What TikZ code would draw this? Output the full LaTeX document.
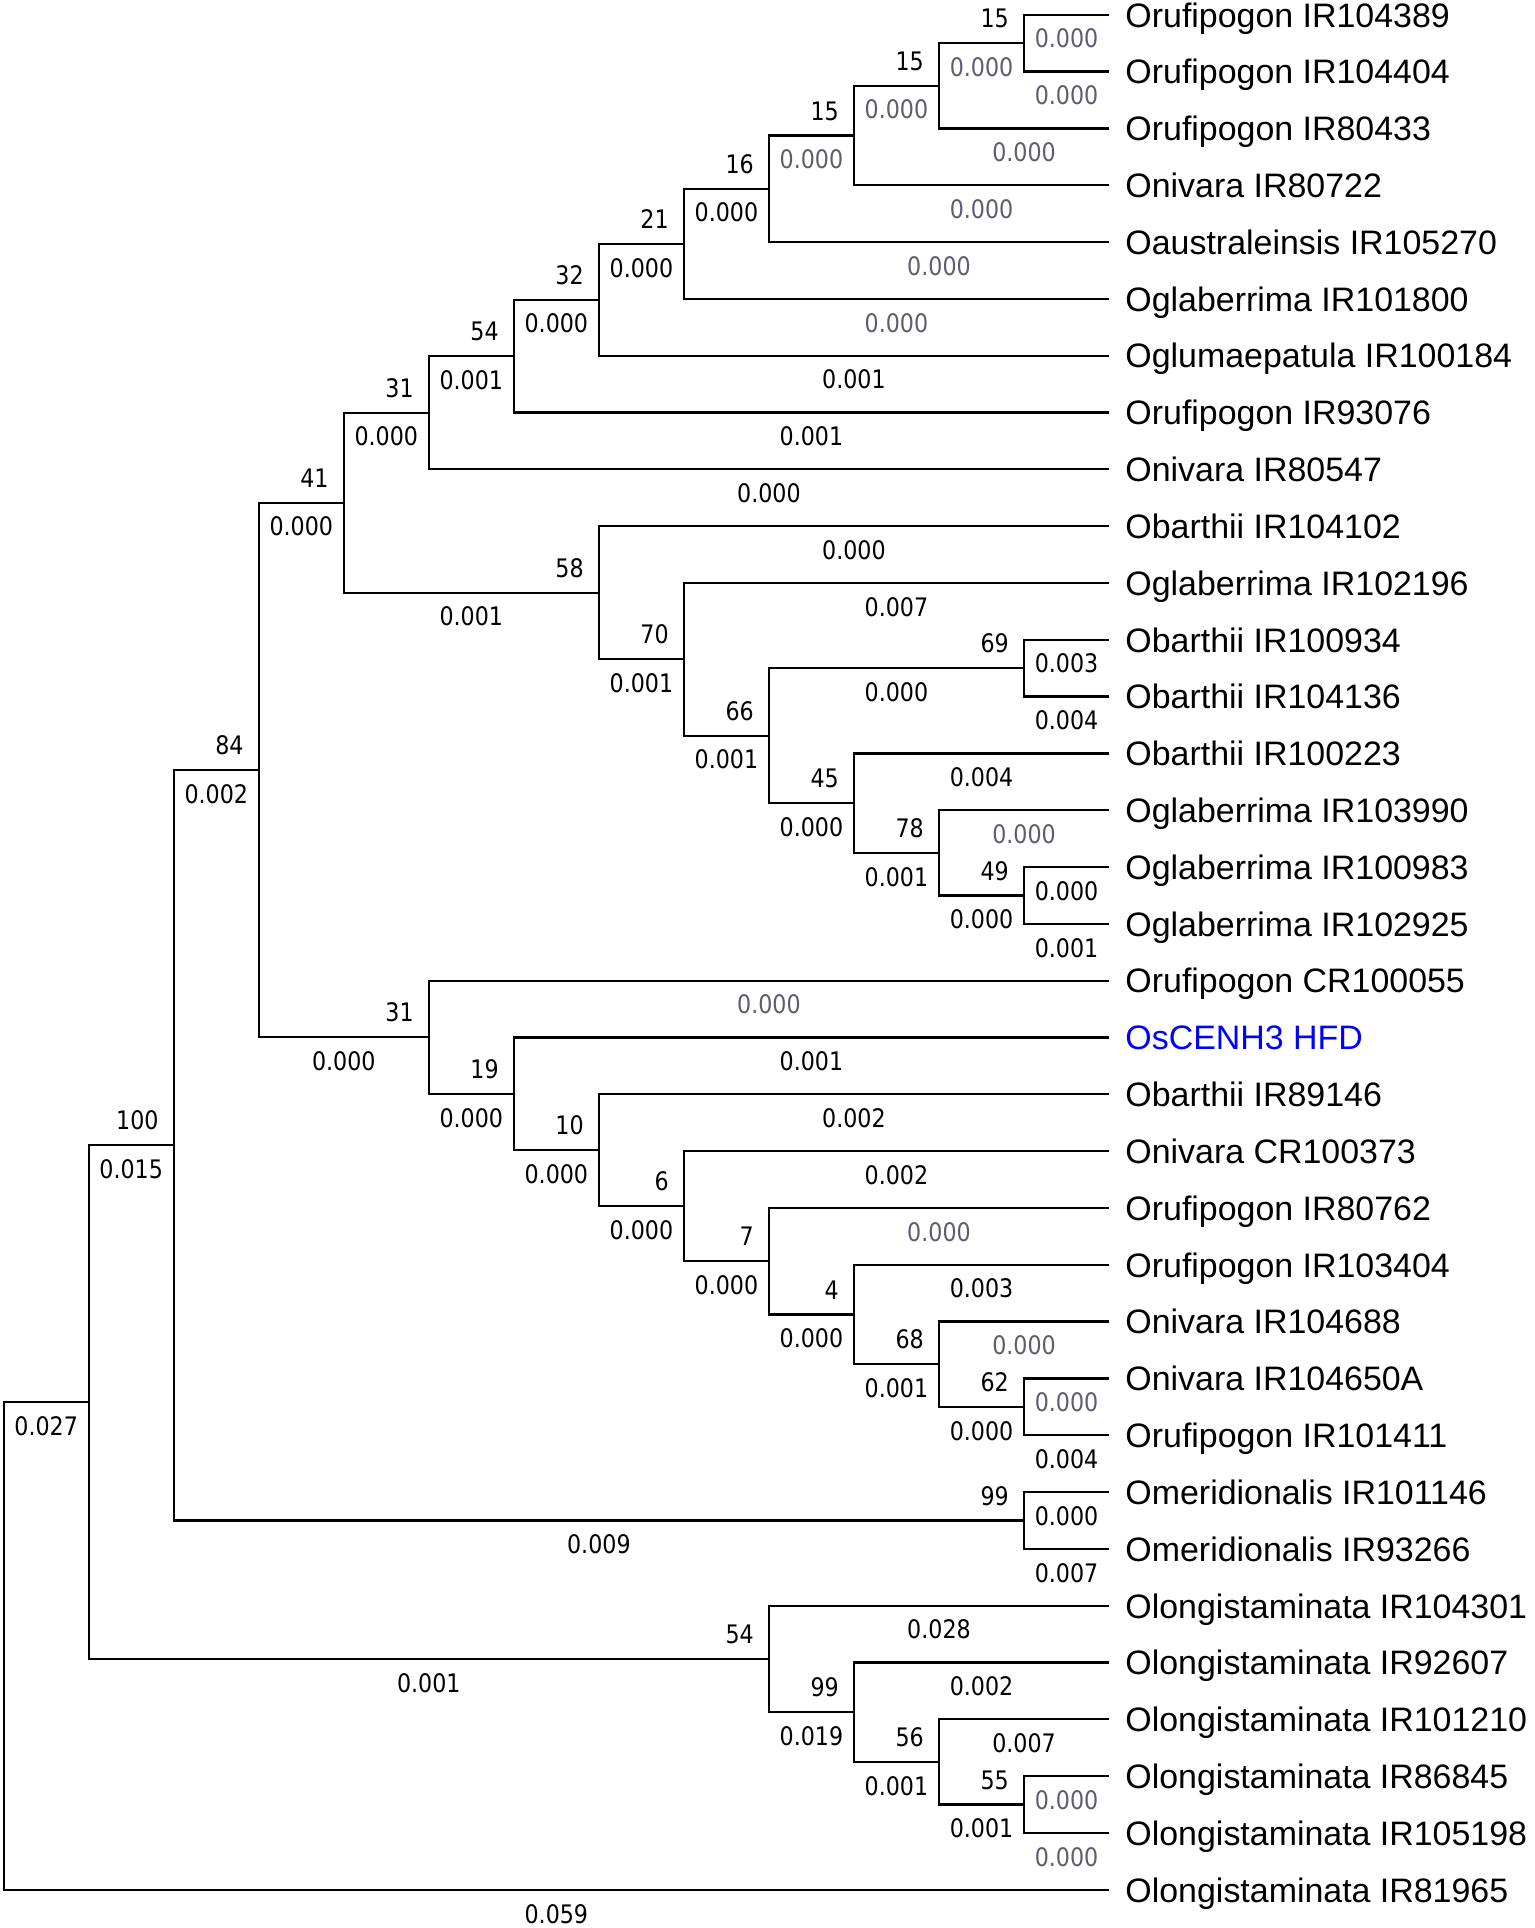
\documentclass[tikz,border=0pt]{standalone}
\usepackage{fontspec}
\usepackage{tikz}
\usetikzlibrary{calc}
\newfontfamily\leaffont{Liberation Sans}
\newfontfamily\treenum[FakeStretch=0.87]{DejaVu Sans}
\definecolor{zerogray}{RGB}{96,92,112}
\definecolor{hfdblue}{RGB}{0,0,255}
\tikzset{
	branch/.style={line width=1.05pt, color=black},
	blen/.style={anchor=base, inner sep=0pt, yshift=-0.54cm, font=\treenum\fontsize{11.8}{13}\selectfont},
	zerolen/.style={blen, text=zerogray},
	boot/.style={anchor=base east, inner sep=0pt, xshift=-0.24cm, yshift=0.25cm, font=\treenum\fontsize{11.8}{13}\selectfont},
	taxon/.style={anchor=base west, inner sep=0pt, xshift=0.26cm, yshift=-0.2cm, font=\leaffont\fontsize{15.7}{18}\selectfont}
}

\begin{document}
\begin{tikzpicture}[x=1.383cm, y=-0.9242cm]
			%%%%% START %%%%%
			
			\useasboundingbox ([xshift=-0.06cm,yshift=0.24cm]0,0) rectangle ++(24.96cm,-31.36cm);
			
			% leaf tips
			\foreach \i in {0,...,33}
				\coordinate (t\i) at (13, \i);
			
			% inner nodes (level, height)
			\coordinate (root) at (0, 28.708);
			\coordinate (A) at (1, 24.41675);
			\coordinate (B) at (2, 19.896);
			\coordinate (C) at (3, 13.292);
			\coordinate (D) at (4, 8.5879);
			\coordinate (F) at (5, 7.0039);
			\coordinate (H) at (6, 6.0078);
			\coordinate (I) at (7, 5.0156);
			\coordinate (J) at (8, 4.03125);
			\coordinate (K) at (9, 3.0625);
			\coordinate (L) at (10, 2.125);
			\coordinate (M) at (11, 1.25);
			\coordinate (N) at (12, 0.5);
			\coordinate (G) at (7, 10.1719);
			\coordinate (O) at (8, 11.3438);
			\coordinate (P) at (9, 12.6875);
			\coordinate (Q) at (12, 11.5);
			\coordinate (R) at (10, 13.875);
			\coordinate (S) at (11, 14.75);
			\coordinate (T) at (12, 15.5);
			\coordinate (E) at (5, 17.9961);
			\coordinate (U) at (6, 18.9922);
			\coordinate (V) at (7, 19.9844);
			\coordinate (W) at (8, 20.9688);
			\coordinate (X) at (9, 21.9375);
			\coordinate (Y) at (10, 22.875);
			\coordinate (Z) at (11, 23.75);
			\coordinate (AA) at (12, 24.5);
			\coordinate (Om) at (12, 26.5);
			\coordinate (OL) at (9, 28.9375);
			\coordinate (AB) at (10, 29.875);
			\coordinate (AC) at (11, 30.75);
			\coordinate (AD) at (12, 31.5);
			
			% branches
			\foreach \p/\c in {root/A, root/t33, A/B, A/OL, B/C, B/Om, C/D, C/E, D/F, D/G,
					F/H, F/t8, H/I, H/t7, I/J, I/t6, J/K, J/t5, K/L, K/t4, L/M, L/t3, M/N, M/t2, N/t0, N/t1,
					G/t9, G/O, O/t10, O/P, P/Q, P/R, Q/t11, Q/t12, R/t13, R/S, S/t14, S/T, T/t15, T/t16,
					E/t17, E/U, U/t18, U/V, V/t19, V/W, W/t20, W/X, X/t21, X/Y, Y/t22, Y/Z, Z/t23, Z/AA, AA/t24, AA/t25,
					Om/t26, Om/t27, OL/t28, OL/AB, AB/t29, AB/AC, AC/t30, AC/AD, AD/t31, AD/t32}
				\draw[branch] (\p) |- (\c);
			
			% branch lengths
			\foreach \p/\c/\v in {root/A/0.027, root/t33/0.059, A/B/0.015, A/OL/0.001, B/C/0.002, B/Om/0.009,
					C/D/0.000, C/E/0.000, D/F/0.000, D/G/0.001, F/H/0.001, F/t8/0.000, H/I/0.000, H/t7/0.001,
					I/J/0.000, I/t6/0.001, J/K/0.000, G/t9/0.000, G/O/0.001, O/t10/0.007, O/P/0.001,
					P/Q/0.000, P/R/0.000, Q/t11/0.003, Q/t12/0.004, R/t13/0.004, R/S/0.001, S/T/0.000,
					T/t15/0.000, T/t16/0.001, E/U/0.000, U/t18/0.001, U/V/0.000, V/t19/0.002, V/W/0.000,
					W/t20/0.002, W/X/0.000, X/Y/0.000, Y/t22/0.003, Y/Z/0.001, Z/AA/0.000, AA/t25/0.004,
					Om/t26/0.000, Om/t27/0.007, OL/t28/0.028, OL/AB/0.019, AB/t29/0.002, AB/AC/0.001,
					AC/t30/0.007, AC/AD/0.001}
				\node[blen] (len-\c) at ($(\p |- \c)!.5!(\c)$) {\v};
			\foreach \p/\c in {J/t5, K/L, K/t4, L/M, L/t3, M/N, M/t2, N/t0, N/t1, S/t14, E/t17,
					X/t21, Z/t23, AA/t24, AD/t31, AD/t32}
				\node[zerolen] (len-\c) at ($(\p |- \c)!.5!(\c)$) {0.000};
			
			% bootstrap values
			\foreach \c/\v in {B/100, C/84, D/41, F/31, H/54, I/32, J/21, K/16, L/15, M/15, N/15,
					G/58, O/70, P/66, Q/69, R/45, S/78, T/49, E/31, U/19, V/10, W/6, X/7, Y/4,
					Z/68, AA/62, Om/99, OL/54, AB/99, AC/56, AD/55}
				\node[boot] (bs-\c) at (\c) {\v};
			
			% taxa
			\foreach \i/\name in {0/Orufipogon IR104389, 1/Orufipogon IR104404, 2/Orufipogon IR80433,
					3/Onivara IR80722, 4/Oaustraleinsis IR105270, 5/Oglaberrima IR101800,
					6/Oglumaepatula IR100184, 7/Orufipogon IR93076, 8/Onivara IR80547,
					9/Obarthii IR104102, 10/Oglaberrima IR102196, 11/Obarthii IR100934,
					12/Obarthii IR104136, 13/Obarthii IR100223, 14/Oglaberrima IR103990,
					15/Oglaberrima IR100983, 16/Oglaberrima IR102925, 17/Orufipogon CR100055,
					19/Obarthii IR89146, 20/Onivara CR100373, 21/Orufipogon IR80762,
					22/Orufipogon IR103404, 23/Onivara IR104688, 24/Onivara IR104650A,
					25/Orufipogon IR101411, 26/Omeridionalis IR101146, 27/Omeridionalis IR93266,
					28/Olongistaminata IR104301, 29/Olongistaminata IR92607, 30/Olongistaminata IR101210,
					31/Olongistaminata IR86845, 32/Olongistaminata IR105198, 33/Olongistaminata IR81965}
				\node[taxon] (tx\i) at (t\i) {\name};
			\node[taxon, text=hfdblue] (tx18) at (t18) {OsCENH3 HFD};
			
			%%%%% END %%%%%
\end{tikzpicture}
\end{document}
